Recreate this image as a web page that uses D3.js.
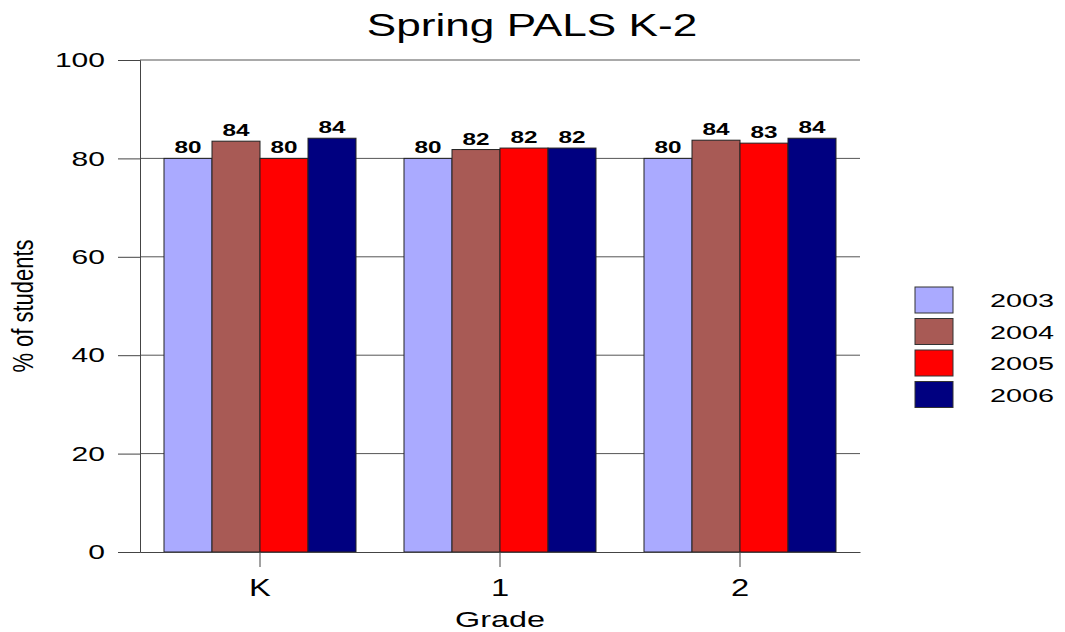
<!DOCTYPE html>
<html>
<head>
<meta charset="utf-8">
<script src="https://cdn.jsdelivr.net/npm/d3@7"></script>
<style>
  body { margin: 0; background: #fff; }
  text { font-family: "Liberation Sans", Arial, sans-serif; fill: #000; }
</style>
</head>
<body>
<div id="chart"></div>
<script>
var grades = ['K', '1', '2'];
var years = ['2003', '2004', '2005', '2006'];
var yearColors = ['#aaaaff', '#a85a55', '#ff0000', '#000080'];
var values2003 = [80, 80, 80];
var values2004 = [83.5, 81.8, 83.7];
var values2005 = [80, 82.1, 83.1];
var values2006 = [84.1, 82.1, 84.1];
var yTicks = [0, 20, 40, 60, 80, 100];

var seriesValues = [values2003, values2004, values2005, values2006];

var width = 1065,
    height = 632,
    margin = {top: 60, right: 205, bottom: 80, left: 140},
    plotW = width - margin.left - margin.right,
    plotH = height - margin.top - margin.bottom;

// text in the original is stretched sideways, so widen it
function stretch(sel, k) {
  sel.each(function() {
    var w = this.getComputedTextLength();
    d3.select(this)
      .attr('textLength', w * k)
      .attr('lengthAdjust', 'spacingAndGlyphs');
  });
}

var svg = d3.select('#chart').append('svg')
  .attr('width', width)
  .attr('height', height);

var g = svg.append('g')
  .attr('transform', 'translate(' + margin.left + ',' + margin.top + ')');

var x0 = d3.scaleBand()
  .domain(grades)
  .range([0, plotW])
  .paddingInner(0.2)
  .paddingOuter(0.1);

var x1 = d3.scaleBand()
  .domain(years)
  .range([0, x0.bandwidth()]);

var y = d3.scaleLinear()
  .domain([0, 100])
  .range([plotH, 0]);

// gridlines
g.selectAll('.grid')
  .data(yTicks.filter(function(d) { return d > 0; }))
  .enter()
  .append('line')
  .attr('class', 'grid')
  .attr('x1', 0)
  .attr('x2', plotW)
  .attr('y1', function(d) { return y(d); })
  .attr('y2', function(d) { return y(d); })
  .attr('stroke', '#555')
  .attr('stroke-width', 1);

// bars
var groups = g.selectAll('.grade')
  .data(grades)
  .enter()
  .append('g')
  .attr('class', 'grade')
  .attr('transform', function(d) { return 'translate(' + x0(d) + ',0)'; });

groups.selectAll('rect')
  .data(function(d, i) {
    return years.map(function(yr, j) {
      return {year: yr, value: seriesValues[j][i], color: yearColors[j]};
    });
  })
  .enter()
  .append('rect')
  .attr('x', function(d) { return x1(d.year); })
  .attr('y', function(d) { return y(d.value); })
  .attr('width', x1.bandwidth())
  .attr('height', function(d) { return plotH - y(d.value); })
  .attr('fill', function(d) { return d.color; })
  .attr('stroke', '#222')
  .attr('stroke-width', 1);

var valueLabels = groups.selectAll('.val')
  .data(function(d, i) {
    return years.map(function(yr, j) {
      return {year: yr, value: seriesValues[j][i]};
    });
  })
  .enter()
  .append('text')
  .attr('class', 'val')
  .attr('x', function(d) { return x1(d.year) + x1.bandwidth() / 2; })
  .attr('y', function(d) { return y(d.value) - 5; })
  .attr('text-anchor', 'middle')
  .style('font-size', '17px')
  .style('font-weight', 'bold')
  .text(function(d) { return Math.round(d.value); });
stretch(valueLabels, 1.43);

// axes
var yAxis = d3.axisLeft(y)
  .tickValues(yTicks)
  .tickSize(22)
  .tickPadding(13);

var yAxisGroup = g.append('g').call(yAxis);
yAxisGroup.selectAll('line, path').attr('stroke', '#444');
yAxisGroup.selectAll('text')
  .style('font-size', '21px')
  .attr('fill', '#000');
stretch(yAxisGroup.selectAll('text'), 1.43);

var xAxis = d3.axisBottom(x0)
  .tickSize(15)
  .tickSizeOuter(0)
  .tickPadding(13);

var xAxisGroup = g.append('g')
  .attr('transform', 'translate(0,' + plotH + ')')
  .call(xAxis);
xAxisGroup.selectAll('line, path').attr('stroke', '#444');
xAxisGroup.selectAll('text')
  .style('font-size', '23px')
  .attr('fill', '#000');
stretch(xAxisGroup.selectAll('text'), 1.42);

// title and axis labels
var title = svg.append('text')
  .attr('x', 532)
  .attr('y', 36)
  .attr('text-anchor', 'middle')
  .style('font-size', '32px')
  .text('Spring PALS K-2');
stretch(title, 1.38);

var xLabel = svg.append('text')
  .attr('x', margin.left + plotW / 2)
  .attr('y', 627)
  .attr('text-anchor', 'middle')
  .style('font-size', '22px')
  .text('Grade');
stretch(xLabel, 1.47);

svg.append('text')
  .attr('transform', 'translate(33,' + (margin.top + plotH / 2) + ') rotate(-90) scale(1,1.3)')
  .attr('text-anchor', 'middle')
  .style('font-size', '22px')
  .text('% of students');

// legend
var legend = svg.append('g')
  .attr('transform', 'translate(915,287)');

var items = legend.selectAll('.item')
  .data(years)
  .enter()
  .append('g')
  .attr('class', 'item')
  .attr('transform', function(d, i) { return 'translate(0,' + (i * 31.5) + ')'; });

items.append('rect')
  .attr('width', 38)
  .attr('height', 26)
  .attr('fill', function(d, i) { return yearColors[i]; })
  .attr('stroke', '#333')
  .attr('stroke-width', 1);

var legendText = items.append('text')
  .attr('x', 75)
  .attr('y', 20)
  .style('font-size', '18px')
  .text(function(d) { return d; });
stretch(legendText, 1.6);
</script>
</body>
</html>
